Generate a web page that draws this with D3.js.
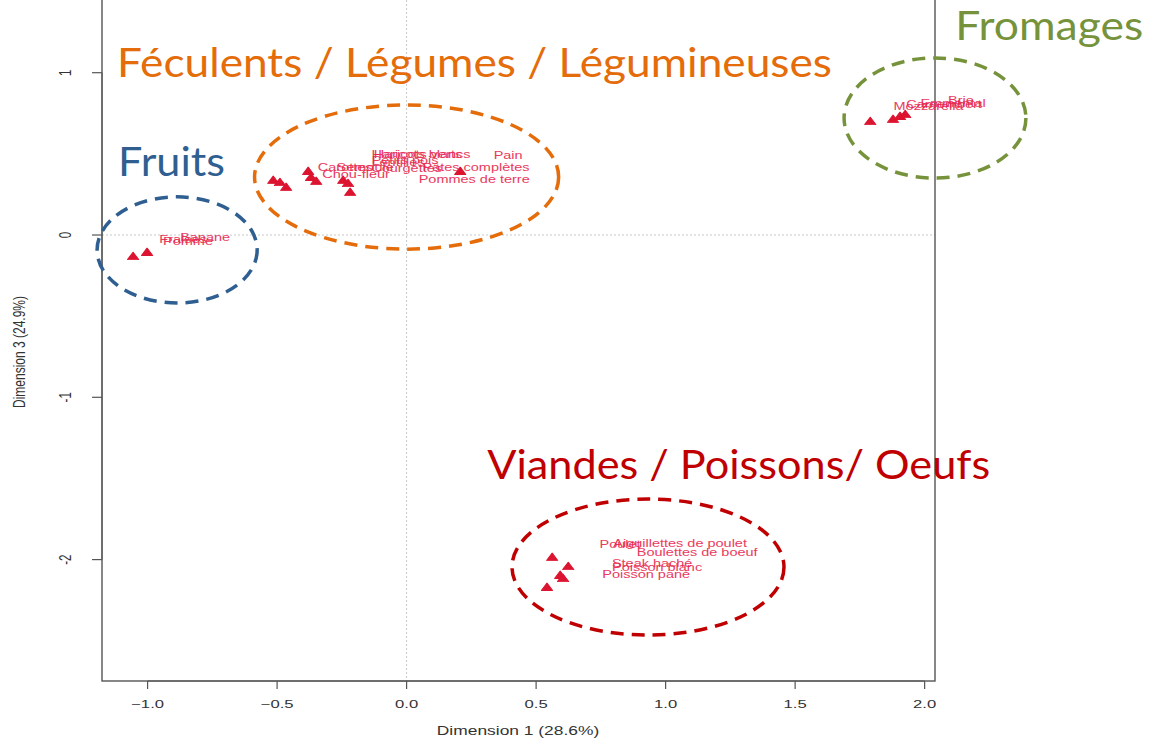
<!DOCTYPE html>
<html>
<head>
<meta charset="utf-8">
<script src="https://cdn.jsdelivr.net/npm/d3@7"></script>
<style>
  body { margin: 0; background: #fff; }
  svg { display: block; }
</style>
</head>
<body>
<svg width="1151" height="739"></svg>
<script>
// individuals (red triangles), coordinates on Dim 1 / Dim 3
var pointDim1 = [-1.056, -1.002,
  -0.515, -0.489, -0.465, -0.380, -0.369, -0.349, -0.245, -0.226, -0.218, 0.207,
  1.790, 1.878, 1.905, 1.925,
  0.562, 0.624, 0.593, 0.604, 0.542];
var pointDim3 = [-0.136, -0.111,
  0.333, 0.320, 0.290, 0.388, 0.351, 0.327, 0.333, 0.314, 0.259, 0.388,
  0.696, 0.709, 0.727, 0.739,
  -1.990, -2.046, -2.101, -2.120, -2.175];

// food labels
var labelNames = ["Fraises", "Pomme", "Banane",
  "Haricots verts", "Haricots blancs", "Petits pois", "Lentilles", "Pain",
  "Carottes", "Semoule", "Courgettes", "Pâtes complètes", "Chou-fleur", "Pommes de terre",
  "Mozzarella", "Camembert", "Emmental", "Brie",
  "Poulet", "Aiguillettes de poulet", "Boulettes de boeuf", "Steak haché", "Poisson blanc", "Poisson pané"];
var labelDim1 = [-0.863, -0.844, -0.778,
  0.044, 0.056, -0.006, -0.033, 0.392,
  -0.237, -0.160, 0.000, 0.268, -0.195, 0.261,
  2.015, 2.075, 2.110, 2.140,
  0.824, 1.056, 1.122, 0.948, 0.967, 0.925];
var labelDim3 = [-0.025, -0.043, -0.018,
  0.499, 0.493, 0.462, 0.444, 0.487,
  0.413, 0.419, 0.407, 0.413, 0.370, 0.339,
  0.789, 0.807, 0.813, 0.826,
  -1.910, -1.898, -1.959, -2.021, -2.046, -2.089];

// axes
var xTicks = [-1.0, -0.5, 0.0, 0.5, 1.0, 1.5, 2.0];
var yTicks = [1, 0, -1, -2];
var xTitle = "Dimension 1 (28.6%)";
var yTitle = "Dimension 3 (24.9%)";

// groups drawn over the plot
var groupNames = ["Fromages", "Féculents / Légumes / Légumineuses", "Fruits", "Viandes / Poissons/ Oeufs"];
var groupColors = ["#76933c", "#e46c0a", "#2f5f91", "#c00000"];
var groupTextDim1 = [2.118, -1.118, -1.114, 0.311];
var groupTextDim3 = [1.202, 0.974, 0.364, -1.503];
var groupTextWidth = [188, 715, 107, 503];
var ellipseDim1 = [2.040, 0.000, -0.886, 0.932];
var ellipseDim3 = [0.721, 0.357, -0.092, -2.046];
var ellipseRx = [0.351, 0.587, 0.309, 0.525];
var ellipseRy = [0.370, 0.444, 0.327, 0.419];

var svg = d3.select("svg");

var x = d3.scaleLinear().domain([-1.176, 2.04]).range([102, 935]);
var y = d3.scaleLinear().domain([-2.748, 1.448]).range([681, 0]);

// text in the original image is stretched sideways
var stretch = 1.45;
function put(sel, px, py, rot) {
  sel.attr("transform", "translate(" + px + "," + py + ") scale(" + stretch + ",1)" + (rot ? " rotate(" + rot + ")" : ""));
}

// zero lines
svg.append("line")
  .attr("x1", x.range()[0]).attr("x2", x.range()[1])
  .attr("y1", y(0)).attr("y2", y(0))
  .attr("stroke", "#c8c8c8").attr("stroke-dasharray", "2,2");
svg.append("line")
  .attr("x1", x(0)).attr("x2", x(0))
  .attr("y1", y.range()[1]).attr("y2", y.range()[0])
  .attr("stroke", "#c8c8c8").attr("stroke-dasharray", "2,2");

// box
svg.append("rect")
  .attr("x", x.range()[0]).attr("y", -2)
  .attr("width", x.range()[1] - x.range()[0])
  .attr("height", y.range()[0] + 2)
  .attr("fill", "none").attr("stroke", "#555").attr("stroke-width", 1.4);

// x axis
var gx = svg.append("g");
gx.append("line")
  .attr("x1", x(xTicks[0])).attr("x2", x(xTicks[xTicks.length - 1]))
  .attr("y1", 681).attr("y2", 681).attr("stroke", "#555");
xTicks.forEach(function(t) {
  gx.append("line").attr("x1", x(t)).attr("x2", x(t)).attr("y1", 681).attr("y2", 689)
    .attr("stroke", "#555").attr("stroke-width", 1.2);
  var tx = gx.append("text").text(d3.format(".1f")(t))
    .attr("text-anchor", "middle").attr("font-family", "Liberation Sans, Arial")
    .attr("font-size", 11.5).attr("fill", "#333");
  put(tx, x(t), 708);
});
put(gx.append("text").text(xTitle)
  .attr("text-anchor", "middle").attr("font-family", "Liberation Sans, Arial")
  .attr("font-size", 12).attr("fill", "#333"), 518, 735);

// y axis
var gy = svg.append("g");
gy.append("line")
  .attr("x1", 102).attr("x2", 102)
  .attr("y1", y(yTicks[0])).attr("y2", y(yTicks[yTicks.length - 1])).attr("stroke", "#555");
yTicks.forEach(function(t) {
  gy.append("line").attr("x1", 92).attr("x2", 102).attr("y1", y(t)).attr("y2", y(t))
    .attr("stroke", "#555").attr("stroke-width", 1.2);
  var ty = gy.append("text").text(t < 0 ? "-" + Math.abs(t) : t)
    .attr("text-anchor", "middle").attr("font-family", "Liberation Sans Narrow, Liberation Sans, Arial")
    .attr("font-size", 11.5).attr("fill", "#333");
  put(ty, 71, y(t), -90);
});
put(gy.append("text").text(yTitle)
  .attr("text-anchor", "middle").attr("font-family", "Liberation Sans Narrow, Liberation Sans, Arial")
  .attr("font-size", 12).attr("fill", "#333"), 25, 352, -90);

// triangles
svg.append("g").selectAll("path")
  .data(d3.range(pointDim1.length))
  .join("path")
  .attr("d", d3.symbol(d3.symbolTriangle, 32))
  .attr("transform", function(i) { return "translate(" + x(pointDim1[i]) + "," + y(pointDim3[i]) + ") scale(1.3,1)"; })
  .attr("fill", "#dc1430").attr("stroke", "#dc1430").attr("stroke-width", 0.8).attr("stroke-linejoin", "round");

// labels
var gl = svg.append("g");
labelNames.forEach(function(name, i) {
  var t = gl.append("text").text(name)
    .attr("text-anchor", "middle").attr("dy", "0.35em")
    .attr("font-family", "Liberation Sans, Arial").attr("font-size", 10)
    .attr("fill", "#e8264d").attr("opacity", 0.9);
  put(t, x(labelDim1[i]), y(labelDim3[i]));
});

// group ellipses and titles
groupNames.forEach(function(name, i) {
  svg.append("ellipse")
    .attr("cx", x(ellipseDim1[i])).attr("cy", y(ellipseDim3[i]))
    .attr("rx", x(ellipseRx[i]) - x(0)).attr("ry", y(0) - y(ellipseRy[i]))
    .attr("fill", "none").attr("stroke", groupColors[i])
    .attr("stroke-width", 3.5).attr("stroke-dasharray", "13,8");
  svg.append("text").text(name)
    .attr("x", x(groupTextDim1[i])).attr("y", y(groupTextDim3[i]))
    .attr("font-family", "Lato, Open Sans, sans-serif").attr("font-size", 40)
    .attr("textLength", groupTextWidth[i]).attr("lengthAdjust", "spacingAndGlyphs")
    .attr("fill", groupColors[i]);
});
</script>
</body>
</html>
